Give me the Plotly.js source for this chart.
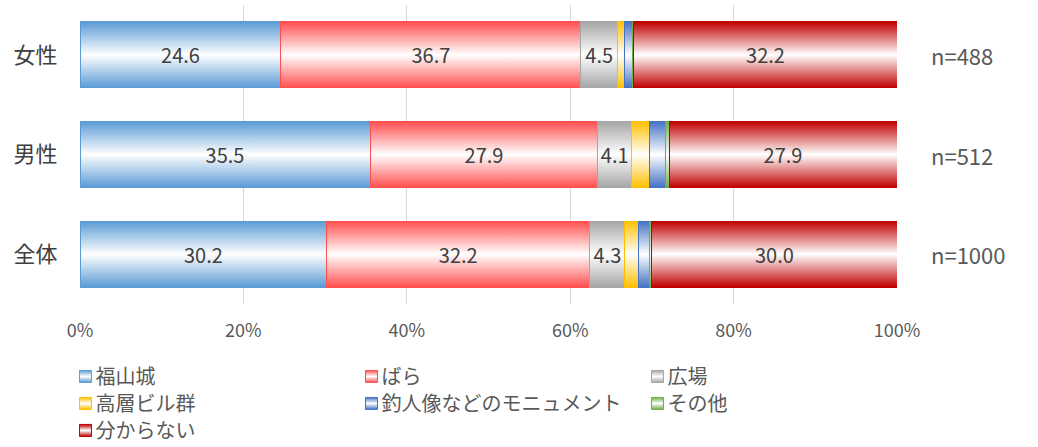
<!DOCTYPE html>
<html><head><meta charset="utf-8">
<script src="https://cdn.plot.ly/plotly-3.0.1.min.js"></script>
<style>body{margin:0;background:#fff}#chart{width:1038px;height:447px}</style>
</head><body><div id="chart"></div>
<script>
const categories = ['女性', '男性', '全体'];
const seriesNames = ['福山城', 'ばら', '広場', '高層ビル群', '釣人像などのモニュメント', 'その他', '分からない'];
const fukuyamajo = [24.6, 35.5, 30.2];
const bara = [36.7, 27.9, 32.2];
const hiroba = [4.5, 4.1, 4.3];
const kousou = [0.8, 2.2, 1.6];
const monument = [1.0, 2.0, 1.4];
const sonota = [0.2, 0.4, 0.3];
const wakaranai = [32.2, 27.9, 30.0];
const nLabels = ['n=488', 'n=512', 'n=1000'];
const showLabel = [true, true, true, false, false, false, true];
const colors = ['#5B9BD5', '#FF4F4F', '#A5A5A5', '#FFC000', '#4472C4', '#70AD47', '#C00000'];
const legendColumn = ['legend', 'legend2', 'legend3', 'legend', 'legend2', 'legend3', 'legend'];
const seriesValues = [fukuyamajo, bara, hiroba, kousou, monument, sonota, wakaranai];

const font = '"Noto Sans CJK JP", "Noto Sans", sans-serif';
const traces = seriesValues.map((vals, i) => ({
  type: 'bar', orientation: 'h', name: seriesNames[i],
  y: categories, x: vals,
  text: showLabel[i] ? vals.map(v => v.toFixed(1)) : vals.map(() => ''),
  textposition: 'inside', insidetextanchor: 'middle', textangle: 0,
  constraintext: 'none',
  textfont: {family: font, size: 20, color: '#404040'},
  marker: {color: colors[i], line: {color: colors[i], width: 1}},
  legend: legendColumn[i],
  hoverinfo: 'skip'
}));

const annotations = categories.map((c, i) => ({
  xref: 'paper', yref: 'y', x: 1.039, y: c, xanchor: 'left', yanchor: 'middle',
  text: nLabels[i], showarrow: false,
  font: {family: font, size: 22, color: '#595959'}
}));

const legendBase = {
  orientation: 'v', xref: 'container', yref: 'container', xanchor: 'left',
  y: 0.2015, yanchor: 'top', traceorder: 'normal', itemwidth: 30,
  bgcolor: 'rgba(0,0,0,0)',
  font: {family: font, size: 20, color: '#595959'}, tracegroupgap: 0
};

const layout = {
  width: 1038, height: 447,
  margin: {l: 80, r: 141, t: 5, b: 143, autoexpand: false},
  barmode: 'stack', bargap: 0.337,
  paper_bgcolor: '#fff', plot_bgcolor: '#fff',
  font: {family: font, color: '#595959'},
  xaxis: {range: [0, 100], dtick: 20, ticksuffix: '%', showgrid: true, gridcolor: '#d9d9d9',
    zeroline: false, showline: false, ticks: 'outside', ticklen: 10, tickcolor: 'rgba(0,0,0,0)',
    tickfont: {size: 18, color: '#595959'}, fixedrange: true},
  yaxis: {categoryorder: 'array', categoryarray: ['全体', '男性', '女性'], showgrid: false,
    zeroline: false, showline: false, ticks: 'outside', ticklen: 17, tickcolor: 'rgba(0,0,0,0)',
    tickfont: {size: 22, color: '#404040'}, fixedrange: true},
  showlegend: true,
  legend: Object.assign({}, legendBase, {x: 0.0535}),
  legend2: Object.assign({}, legendBase, {x: 0.329}),
  legend3: Object.assign({}, legendBase, {x: 0.6045}),
  annotations: annotations
};

const rowPitch = 27;
Plotly.newPlot('chart', traces, layout, {displayModeBar: false, staticPlot: true}).then(gd => {
  const svg = gd.querySelector('svg.main-svg');
  const ns = 'http://www.w3.org/2000/svg';
  const defs = document.createElementNS(ns, 'defs');
  colors.forEach((c, i) => {
    const g = document.createElementNS(ns, 'linearGradient');
    g.setAttribute('id', 'grad' + i);
    g.setAttribute('x1', '0'); g.setAttribute('y1', '0');
    g.setAttribute('x2', '0'); g.setAttribute('y2', '1');
    [[0, c], [0.5, '#ffffff'], [1, c]].forEach(([o, col]) => {
      const s = document.createElementNS(ns, 'stop');
      s.setAttribute('offset', o); s.setAttribute('stop-color', col);
      g.appendChild(s);
    });
    defs.appendChild(g);
  });
  svg.insertBefore(defs, svg.firstChild);
  gd.querySelectorAll('.barlayer .trace').forEach((t, i) => {
    t.querySelectorAll('.point path').forEach(p => { p.style.fill = 'url(#grad' + i + ')'; });
  });
  gd.querySelectorAll('g.traces').forEach(t => {
    const d = t.__data__;
    const idx = d && d[0] && d[0].trace ? d[0].trace.index : null;
    if (idx === null || idx === undefined) return;
    t.querySelectorAll('.legendpoints path').forEach(p => { p.style.fill = 'url(#grad' + idx + ')'; });
    t.querySelectorAll('.legendpoints').forEach(p => { p.setAttribute('transform', 'translate(10,0)'); });
  });
  // tighten legend row pitch
  gd.querySelectorAll('g.scrollbox').forEach(sb => {
    const items = Array.from(sb.querySelectorAll('g.traces'));
    const parsed = items.map(t => {
      const m = /translate\(\s*([-\d.]+)[ ,]+([-\d.]+)\s*\)/.exec(t.getAttribute('transform') || '');
      return m ? {t, x: +m[1], y: +m[2]} : null;
    }).filter(Boolean).sort((a, b) => a.y - b.y);
    if (!parsed.length) return;
    const y0 = parsed[0].y;
    parsed.forEach((p, k) => p.t.setAttribute('transform', 'translate(' + p.x + ',' + (y0 + k * rowPitch) + ')'));
  });
});
</script></body></html>
